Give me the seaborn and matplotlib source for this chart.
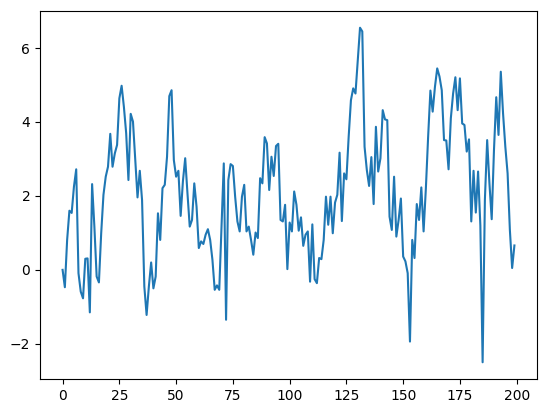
import numpy as np
import pandas as pd
import matplotlib
matplotlib.use("Agg")
import matplotlib.pyplot as plt
import seaborn as sns

# values, one per step (0..199)
values = [
    0.00, -0.47, 0.81, 1.60, 1.54, 2.25, 2.72, -0.09, -0.59, -0.77,
    0.30, 0.31, -1.15, 2.32, 1.17, -0.18, -0.34, 0.99, 2.03, 2.52,
    2.79, 3.68, 2.79, 3.15, 3.38, 4.64, 4.98, 4.41, 3.70, 2.43,
    4.22, 4.01, 2.97, 1.96, 2.68, 1.89, -0.45, -1.22, -0.45, 0.20,
    -0.50, -0.18, 1.53, 0.81, 2.21, 2.30, 3.06, 4.70, 4.86, 2.97,
    2.52, 2.68, 1.46, 2.40, 3.02, 2.07, 1.17, 1.35, 2.34, 1.71,
    0.59, 0.77, 0.70, 0.95, 1.10, 0.81, 0.27, -0.54, -0.42, -0.54,
    1.17, 2.88, -1.35, 2.43, 2.86, 2.81, 1.98, 1.31, 1.04, 1.98,
    2.30, 1.04, 1.17, 0.81, 0.41, 1.01, 0.86, 2.48, 2.34, 3.59,
    3.42, 2.16, 3.06, 2.54, 3.35, 3.41, 1.35, 1.31, 1.76, 0.02,
    1.28, 1.04, 2.12, 1.76, 1.06, 1.42, 0.65, 0.95, 1.04, -0.32,
    1.23, -0.25, -0.36, 0.32, 0.29, 0.81, 1.98, 1.22, 1.98, 0.99,
    1.82, 2.03, 3.17, 1.32, 2.61, 2.45, 3.60, 4.59, 4.91, 4.77,
    5.68, 6.55, 6.45, 3.33, 2.70, 2.27, 3.05, 1.78, 3.87, 2.66,
    3.02, 4.32, 4.07, 4.05, 1.44, 1.08, 2.52, 0.90, 1.35, 1.93,
    0.36, 0.23, -0.09, -1.94, 0.81, 0.32, 1.78, 1.35, 2.23, 1.04,
    2.20, 3.60, 4.85, 4.28, 4.95, 5.45, 5.23, 4.86, 3.51, 3.50,
    2.72, 4.10, 4.77, 5.21, 4.32, 5.18, 3.96, 3.92, 3.20, 3.53,
    1.31, 2.68, 1.55, 2.66, 1.20, -2.50, 1.90, 3.51, 2.34, 1.37,
    3.24, 4.67, 3.65, 5.36, 4.23, 3.33, 2.61, 1.08, 0.05, 0.66,
]
steps = list(range(len(values)))

df = pd.DataFrame({"step": steps, "value": values})

fig = plt.figure(figsize=(5.46, 4.13), dpi=100)
ax = fig.add_axes([40 / 546, 1 - 379 / 413, 497 / 546, 368 / 413])
sns.lineplot(data=df, x="step", y="value", ax=ax, color="#1f77b4", linewidth=1.5)
ax.set_xlabel("")
ax.set_ylabel("")
ax.set_xticks([0, 25, 50, 75, 100, 125, 150, 175, 200])
ax.set_yticks([-2, 0, 2, 4, 6])

fig.savefig("out.png", dpi=100)
